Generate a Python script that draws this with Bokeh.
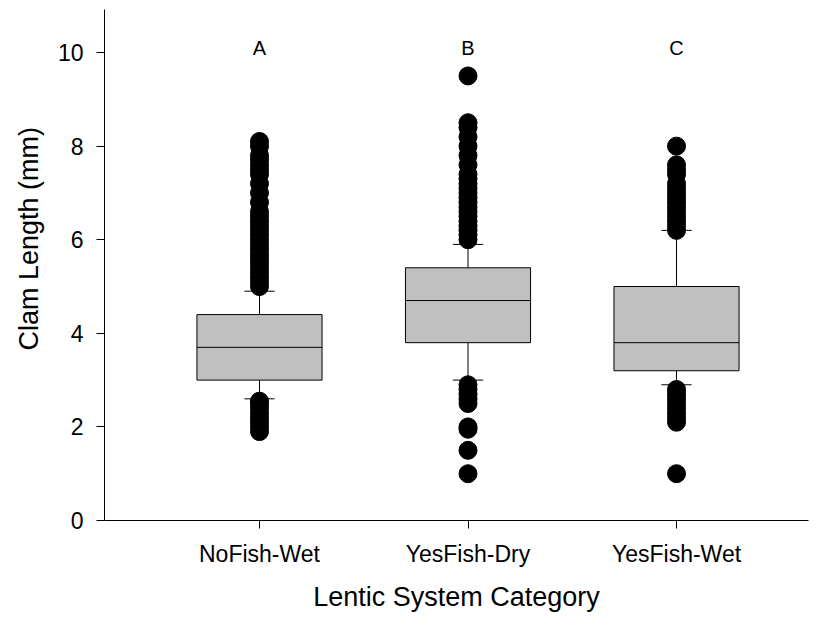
from bokeh.plotting import figure
from bokeh.models import Range1d, FixedTicker, Title
from bokeh.core.properties import value
from bokeh.embed import file_html
from bokeh.resources import INLINE

categories = ["NoFish-Wet", "YesFish-Dry", "YesFish-Wet"]
q1 = [3.0, 3.8, 3.2]
median = [3.7, 4.7, 3.8]
q3 = [4.4, 5.4, 5.0]
whisker_low = [2.6, 3.0, 2.9]
whisker_high = [4.9, 5.9, 6.2]
letters = ["A", "B", "C"]
letter_y = [10.1, 10.1, 10.1]

outliers_nofish_wet = [1.9, 2.0, 2.1, 2.2, 2.3, 2.4, 2.5, 2.55,
                       5.0, 5.1, 5.2, 5.3, 5.4, 5.5, 5.6, 5.7, 5.8, 5.9, 6.0,
                       6.1, 6.2, 6.3, 6.4, 6.5, 6.6, 6.8, 7.0, 7.2, 7.4, 7.5,
                       7.6, 7.7, 7.8, 8.0, 8.1]
outliers_yesfish_dry = [1.0, 1.5, 1.95, 2.0, 2.5, 2.6, 2.7, 2.8, 2.9,
                        6.0, 6.1, 6.2, 6.3, 6.4, 6.5, 6.6, 6.7, 6.8, 6.9, 7.0,
                        7.1, 7.2, 7.3, 7.4, 7.6, 7.8, 8.0, 8.2, 8.4, 8.5, 9.5]
outliers_yesfish_wet = [1.0, 2.1, 2.2, 2.3, 2.4, 2.5, 2.6, 2.7, 2.8,
                        6.2, 6.3, 6.4, 6.5, 6.6, 6.7, 6.8, 6.9, 7.0, 7.1, 7.2,
                        7.4, 7.5, 7.6, 8.0]
outliers = [outliers_nofish_wet, outliers_yesfish_dry, outliers_yesfish_wet]

x_title = "Lentic System Category"
y_title = "Clam Length (mm)"

xs = [i + 1 for i in range(len(categories))]
box_w = 0.6
cap_w = 0.145

FONT = "Liberation Sans"

p = figure(output_backend="svg", toolbar_location=None,
           frame_width=704, frame_height=511,
           min_border_left=104, min_border_right=7, min_border_top=9, min_border_bottom=95,
           x_range=Range1d(0.2566, 3.633), y_range=Range1d(0, 10.92))
p.outline_line_color = None
p.xgrid.grid_line_color = None
p.ygrid.grid_line_color = None
p.background_fill_color = "white"
p.border_fill_color = "white"

# whiskers
p.segment(x0=xs, y0=q3, x1=xs, y1=whisker_high, line_color="black", line_width=1)
p.segment(x0=xs, y0=whisker_low, x1=xs, y1=q1, line_color="black", line_width=1)
p.segment(x0=[x - cap_w / 2 for x in xs], y0=whisker_high,
          x1=[x + cap_w / 2 for x in xs], y1=whisker_high, line_color="black", line_width=1)
p.segment(x0=[x - cap_w / 2 for x in xs], y0=whisker_low,
          x1=[x + cap_w / 2 for x in xs], y1=whisker_low, line_color="black", line_width=1)

# boxes
p.vbar(x=xs, width=box_w, bottom=q1, top=q3, fill_color="#c0c0c0",
       line_color="black", line_width=1)
p.segment(x0=[x - box_w / 2 for x in xs], y0=median,
          x1=[x + box_w / 2 for x in xs], y1=median, line_color="black", line_width=1)

# outliers
ox, oy = [], []
for x, vals in zip(xs, outliers):
    for v in vals:
        ox.append(x)
        oy.append(v)
p.scatter(x=ox, y=oy, size=18, marker="circle", fill_color="black", line_color="black")

# letters
p.text(x=xs, y=letter_y, text=letters, text_align="center", text_baseline="middle",
       text_font=value(FONT), text_font_size="20px", text_color="black")

# axes
p.xaxis.ticker = FixedTicker(ticks=xs)
p.xaxis.major_label_overrides = {x: c for x, c in zip(xs, categories)}
p.yaxis.ticker = FixedTicker(ticks=[0, 2, 4, 6, 8, 10])
for ax in (p.xaxis[0], p.yaxis[0]):
    ax.minor_tick_line_color = None
    ax.major_tick_in = 0
    ax.major_tick_out = 8
    ax.axis_line_color = "black"
    ax.major_tick_line_color = "black"
    ax.major_label_text_font = FONT
    ax.major_label_text_font_size = "23px"
    ax.major_label_text_color = "black"
    ax.axis_label_text_font = FONT
    ax.axis_label_text_font_size = "27px"
    ax.axis_label_text_font_style = "normal"
    ax.axis_label_text_color = "black"
p.xaxis.axis_label = x_title
p.xaxis.major_label_standoff = 12
p.xaxis.axis_label_standoff = 12
p.yaxis.major_label_standoff = 13

# y-axis title as a side title, placed somewhat above the frame centre
ytitle = Title(text=y_title, align="left", offset=170, standoff=22,
               text_font=FONT, text_font_size="27px", text_font_style="normal",
               text_color="black")
p.add_layout(ytitle, "left")

open("out.html", "w").write(file_html(p, INLINE))
